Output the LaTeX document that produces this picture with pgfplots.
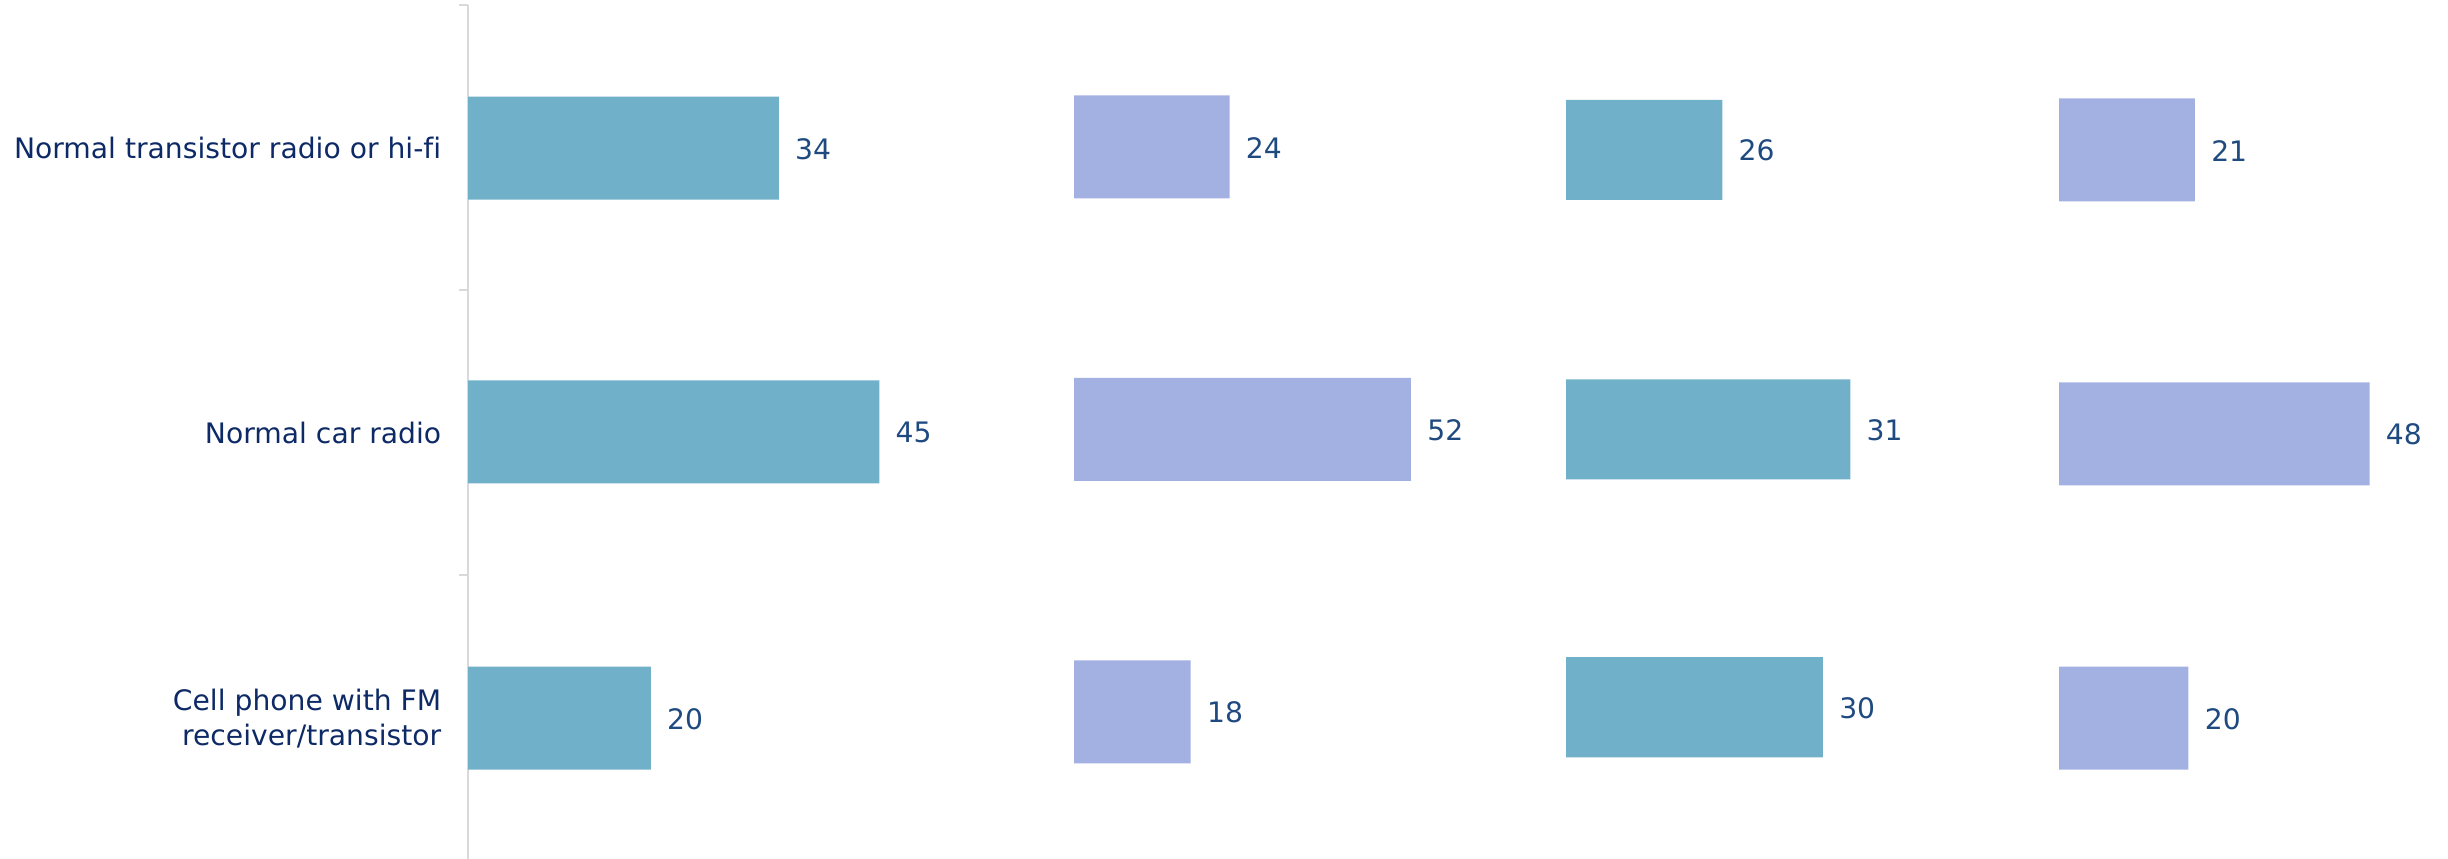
\documentclass[border=0pt]{standalone}
\usepackage{fontspec}
\setmainfont{DejaVu Sans}[Ligatures={NoCommon}]
\usepackage{pgfplots}
\pgfplotsset{compat=1.18}
\definecolor{tealbar}{HTML}{71B0C9}
\definecolor{lavbar}{HTML}{A3B0E2}
\definecolor{catnavy}{HTML}{0E2A66}
\definecolor{valblue}{HTML}{1F4A80}
\definecolor{axgray}{HTML}{D9D9D9}
\newcommand{\chartfont}{\fontsize{7.05}{8.7}\selectfont}
\begin{document}
\begin{tikzpicture}
\useasboundingbox (0,0) rectangle (612pt,214.5pt);
\pgfplotsset{
  panel/.style={
    anchor=north west,
    xbar, bar width=25.75pt, bar shift=0pt,
    xmin=0, xmax=60, ymin=0, ymax=3, y dir=reverse,
    y=71.25pt,
    clip=false,
    point meta=explicit symbolic,
    nodes near coords={\pgfplotspointmeta},
    nodes near coords style={anchor=west, inner sep=0pt, xshift=3.9pt, yshift=-0.2pt,
      font=\chartfont, text=valblue},
  },
}
% Panel 1
\begin{axis}[panel, at={(117pt,213.25pt)}, x=2.285pt,
  axis x line=none, axis y line*=left,
  y axis line style={draw=axgray, line width=0.45pt},
  ytick={0,1,2,3}, yticklabels={,,,},
  tick style={draw=axgray, line width=0.45pt},
  major tick length=2.25pt, tick align=outside,
  extra y ticks={0.5,1.5,2.5},
  extra y tick labels={Normal transistor radio or hi-fi, Normal car radio, {Cell phone with FM\\receiver/transistor}},
  extra y tick style={major tick length=0pt},
  yticklabel style={align=right, inner sep=0pt, xshift=-6.5pt, yshift=-0.2pt, font=\chartfont, text=catnavy},
]
\addplot[fill=tealbar, draw=none] coordinates {(34,0.502) [34] (45,1.498) [45] (20,2.502) [20]};
\end{axis}
% Panel 2
\begin{axis}[panel, at={(268.5pt,213.25pt)}, x=1.62pt, hide axis]
\addplot[fill=lavbar, draw=none] coordinates {(24,0.4975) [24] (52,1.489) [52] (18,2.480) [18]};
\end{axis}
% Panel 3
\begin{axis}[panel, at={(391.5pt,213.25pt)}, x=2.285pt, hide axis, bar width=25pt]
\addplot[fill=tealbar, draw=none] coordinates {(17.1,0.508) [26] (31.1,1.489) [31] (28.1,2.464) [30]};
\end{axis}
% Panel 4
\begin{axis}[panel, at={(514.75pt,213.25pt)}, x=1.6175pt, hide axis]
\addplot[fill=lavbar, draw=none] coordinates {(21,0.508) [21] (48,1.505) [48] (20,2.502) [20]};
\end{axis}
\end{tikzpicture}
\end{document}
